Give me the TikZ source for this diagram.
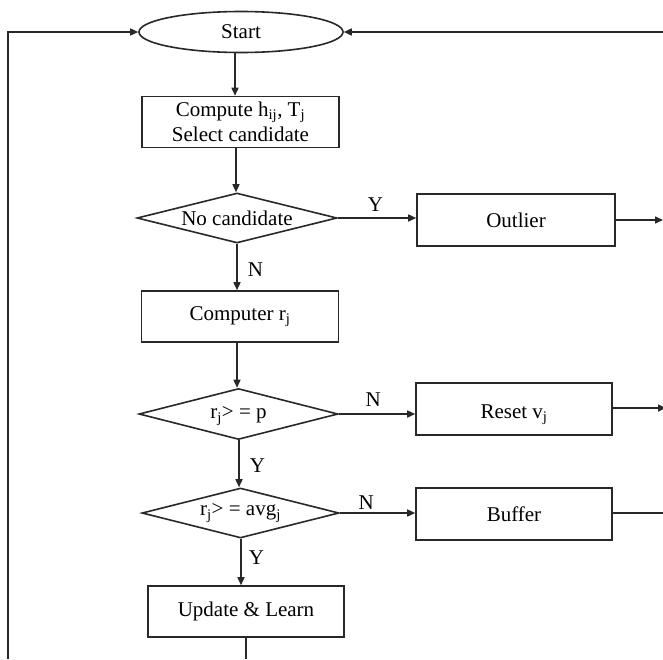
\documentclass[tikz,border=0pt]{standalone}
\usepackage{fontspec}
\setmainfont{Liberation Serif}
\usetikzlibrary{shapes.geometric,arrows.meta}
\definecolor{ln}{RGB}{40,40,40}
\begin{document}
\begin{tikzpicture}[x=1pt,y=-1pt,
  every node/.style={font=\fontsize{21}{25}\selectfont},
  box/.style={draw=ln,line width=1.6pt,rectangle,inner sep=0pt,minimum width=197pt,minimum height=51pt,align=center},
  dec/.style={draw=ln,line width=1.6pt,diamond,aspect=4,inner sep=0pt,minimum width=200pt,minimum height=50pt},
  lbl/.style={inner sep=0pt},
  conn/.style={draw=ln,line width=1.5pt},
  arr/.style={conn,-{Triangle[length=8pt,width=7pt]}}]
\useasboundingbox (0,0) rectangle (663,659);
\fill[white] (0,0) rectangle (663,659);

\node[draw=ln,line width=1.6pt,ellipse,inner sep=0pt,minimum width=204pt,minimum height=41pt] (start) at (241,32) {Start};
\node[box] (b1) at (240.5,122) {Compute h\textsubscript{ij}, T\textsubscript{j}\\Select candidate};
\node[dec] (d1) at (237,218) {No candidate};
\node[box,minimum width=198pt,minimum height=52pt] (out) at (516,220) {Outlier};
\node[box] (b2) at (240,316.5) {Computer r\textsubscript{j}};
\node[dec,minimum width=199pt,minimum height=51pt] (d2) at (238.5,414) {\raisebox{-2pt}[\height][\depth]{r\textsubscript{j}> = p}};
\node[box,minimum width=196pt,minimum height=52pt] (reset) at (514,409) {\raisebox{-6pt}[\height][\depth]{Reset v\textsubscript{j}}};
\node[dec,minimum width=197pt] (d3) at (240.5,513) {r\textsubscript{j}> = avg\textsubscript{j}};
\node[box,minimum width=196pt,minimum height=52pt] (buf) at (514,514) {Buffer};
\node[box,minimum width=196pt] (upd) at (246,611.5) {Update \& Learn};

\coordinate (lb) at (8,659);
\coordinate (lt) at (8,32);
\coordinate (rt) at (663,32);
\coordinate (outR) at (663,220);
\coordinate (resR) at (666,408);
\coordinate (bufR) at (663,513);
\coordinate (updB) at (246,659);

% top loop
\draw[arr] (lb) -- (lt) -- (start.west);
\draw[arr] (rt) -- (start.east);

% main vertical flow
\draw[arr] (start.south -| 235,0) -- (b1.north -| 235,0);
\draw[arr] (b1.south -| 236,0) -- (d1.north -| 236,0);
\draw[arr] (d1.south) -- (b2.north -| d1.south) node[lbl,pos=0.55,right=10pt] {N};
\draw[arr] (b2.south -| 237,0) -- (d2.north -| 237,0);
\draw[arr] (d2.south -| 239,0) -- (d3.north -| 239,0) node[lbl,pos=0.55,right=10pt] {Y};
\draw[arr] (d3.south -| 241,0) -- (upd.north -| 241,0) node[lbl,pos=0.4,right=7pt] {Y};
\draw[conn] (upd.south) -- (updB);

% side branches
\draw[arr] (d1.east) -- (out.west |- d1.east) node[lbl,pos=0.48,above=6pt] {Y};
\draw[arr] (out.east) -- (outR);
\draw[arr] (d2.east) -- (reset.west |- d2.east) node[lbl,pos=0.45,above=7pt] {N};
\draw[arr] (reset.east |- resR) -- (resR);
\draw[arr] (d3.east) -- (buf.west |- d3.east) node[lbl,pos=0.35,above=3pt] {N};
\draw[conn] (buf.east |- bufR) -- (bufR);
\end{tikzpicture}
\end{document}
